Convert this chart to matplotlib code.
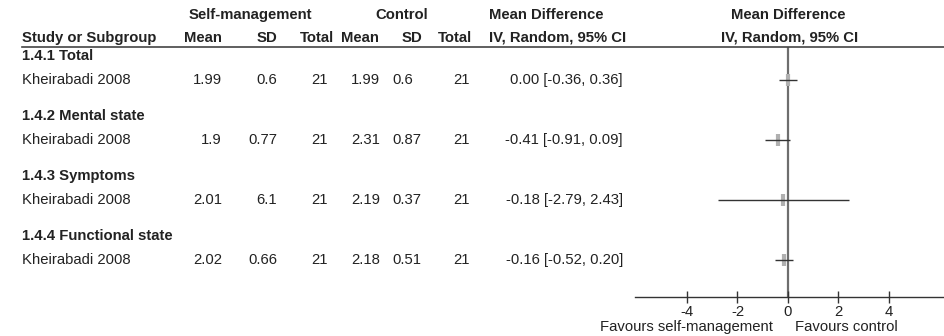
import matplotlib
matplotlib.use("Agg")
import matplotlib.pyplot as plt

plt.rcParams['font.family'] = ['Liberation Sans', 'DejaVu Sans']

# ---- data ----
subgroups = ["1.4.1 Total", "1.4.2 Mental state", "1.4.3 Symptoms", "1.4.4 Functional state"]
studies = ["Kheirabadi 2008"] * 4
sm_mean = ["1.99", "1.9", "2.01", "2.02"]
sm_sd = ["0.6", "0.77", "6.1", "0.66"]
sm_total = [21, 21, 21, 21]
ct_mean = ["1.99", "2.31", "2.19", "2.18"]
ct_sd = ["0.6", "0.87", "0.37", "0.51"]
ct_total = [21, 21, 21, 21]
md = [0.00, -0.41, -0.18, -0.16]
ci_low = [-0.36, -0.91, -2.79, -0.52]
ci_high = [0.36, 0.09, 2.43, 0.20]
xticks = [-4, -2, 0, 2, 4]
favours_left = "Favours self-management"
favours_right = "Favours control"

W, H = 945, 336
fig = plt.figure(figsize=(W / 100, H / 100), dpi=100)
TXT = '#222222'
FS = 10.7


def fx(x):
    return x / W


def fy(y):
    return 1 - y / H


def put(x, y, s, ha='left', bold=False):
    fig.text(fx(x), fy(y), s, ha=ha, va='center', fontsize=FS, color=TXT,
             fontweight='bold' if bold else 'normal')


# ---- column headers ----
put(250, 15, "Self-management", ha='center', bold=True)
put(402, 15, "Control", ha='center', bold=True)
put(489, 15, "Mean Difference", bold=True)
put(788, 15, "Mean Difference", ha='center', bold=True)

put(22, 38, "Study or Subgroup", bold=True)
put(222, 38, "Mean", ha='right', bold=True)
put(277, 38, "SD", ha='right', bold=True)
put(334, 38, "Total", ha='right', bold=True)
put(379, 38, "Mean", ha='right', bold=True)
put(422, 38, "SD", ha='right', bold=True)
put(472, 38, "Total", ha='right', bold=True)
put(489, 38, "IV, Random, 95% CI", bold=True)
put(790, 38, "IV, Random, 95% CI", ha='center', bold=True)

# header rule
fig.add_artist(plt.Line2D([fx(22), fx(945)], [fy(46.5), fy(46.5)],
                          transform=fig.transFigure, color='#444444', lw=1.2))

# ---- table rows ----
ROW0, STEP = 80, 60
for i in range(len(studies)):
    yr = ROW0 + STEP * i
    put(22, yr - 24, subgroups[i], bold=True)
    put(22, yr, studies[i])
    put(222, yr, sm_mean[i], ha='right')
    put(277, yr, sm_sd[i], ha='right')
    put(328, yr, str(sm_total[i]), ha='right')
    put(380, yr, ct_mean[i], ha='right')
    put(392, yr, ct_sd[i], ha='left')
    put(470, yr, str(ct_total[i]), ha='right')
    put(623, yr, f"{md[i]:.2f} [{ci_low[i]:.2f}, {ci_high[i]:.2f}]", ha='right')

# ---- forest plot ----
ax_l, ax_r, ax_t, ax_b = 635, 945, 46.5, 297
ax = fig.add_axes([fx(ax_l), fy(ax_b), (ax_r - ax_l) / W, (ax_b - ax_t) / H])
x_per_px = 1 / 25.25
zero_px = 788
ax.set_xlim((ax_l - zero_px) * x_per_px, (ax_r - zero_px) * x_per_px)
ax.set_ylim((ax_b - ROW0) / STEP, (ax_t - ROW0) / STEP)
ax.patch.set_visible(False)
for side in ['top', 'right', 'left']:
    ax.spines[side].set_visible(False)
ax.spines['bottom'].set_color('#333333')
ax.spines['bottom'].set_linewidth(1.0)
ax.set_yticks([])
ax.set_xticks(xticks)
ax.set_xticklabels([str(t) for t in xticks])
ax.tick_params(axis='x', direction='inout', length=9, width=1.0, color='#333333',
               labelsize=FS, labelcolor=TXT, pad=1.5)

ax.axvline(0, color='#6e6e6e', lw=1.6, zorder=1)
rows = list(range(len(md)))
ax.plot(md, rows, linestyle='none', marker='|', markersize=9, mew=3.0,
        color='#b0b0b0', zorder=2)
ax.hlines(rows, ci_low, ci_high, color='#333333', lw=1.0, zorder=3)

put(773, 327, favours_left, ha='right')
put(795, 327, favours_right, ha='left')

fig.savefig("out.png", dpi=100)
